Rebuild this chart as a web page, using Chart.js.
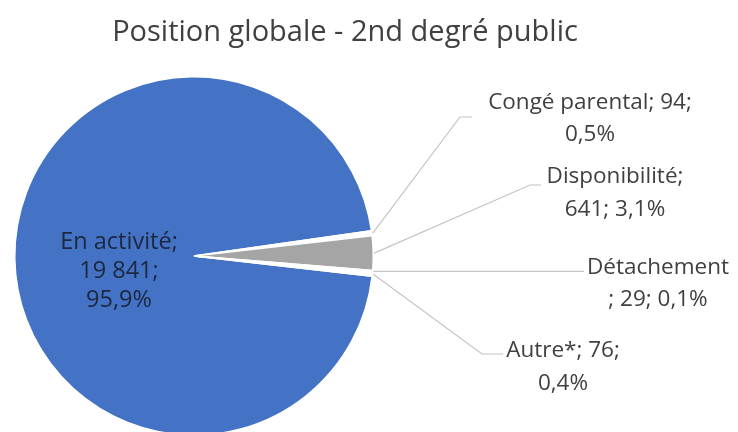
<!DOCTYPE html>
<html lang="fr">
<head>
<meta charset="utf-8">
<title>Position globale - 2nd degré public</title>
<script src="https://cdn.jsdelivr.net/npm/chart.js@4.4.1/dist/chart.umd.min.js"></script>
<style>
  html, body { margin: 0; padding: 0; background: #ffffff; overflow: hidden; }
  #wrap { width: 738px; height: 440px; }
</style>
</head>
<body>
<div id="wrap"><canvas id="pie" width="738" height="440"></canvas></div>
<script>
// effectifs par position
const categories = ['En activité', 'Congé parental', 'Disponibilité', 'Détachement', 'Autre*'];
const effectifs = [19841, 94, 641, 29, 76];
const sliceColors = ['#4472C4', '#FFFFFF', '#A5A5A5', '#FFFFFF', '#FFFFFF'];

const total = effectifs.reduce((a, b) => a + b, 0);
const fmtNum = (n) => String(n).replace(/\B(?=(\d{3})+(?!\d))/g, ' ');
const fmtPct = (n) => (n / total * 100).toFixed(1).replace('.', ',') + '%';

// placement des étiquettes : centre de la 1re ligne, coude du trait de rappel, retours à la ligne
const callouts = [
  { x: 119, y: 242, lh: 29, size: 23.5, breaks: [2, 4], color: '#1c2840' },
  { x: 590, y: 103, lh: 32, breaks: [4], elbow: [460, 117], end: [472, 117] },
  { x: 615, y: 177, lh: 33, breaks: [2], elbow: [530, 185], end: [541, 185] },
  { x: 658, y: 268, lh: 32, breaks: [1], elbow: null, end: [584, 0] },
  { x: 563, y: 351, lh: 33, breaks: [4], elbow: [482, 354], end: [503, 354] }
];

function labelLines(i, breaks) {
  const pieces = [categories[i], ';', ' ' + fmtNum(effectifs[i]), ';', ' ' + fmtPct(effectifs[i])];
  const cuts = [0, ...breaks, pieces.length];
  const out = [];
  for (let k = 0; k < cuts.length - 1; k++) {
    out.push(pieces.slice(cuts[k], cuts[k + 1]).join('').trim());
  }
  return out;
}

const labelsPlugin = {
  id: 'labelsPlugin',
  afterDraw(chart) {
    const ctx = chart.ctx;
    const arcs = chart.getDatasetMeta(0).data;
    ctx.save();

    // titre
    ctx.fillStyle = '#404040';
    ctx.font = '29px "Open Sans"';
    ctx.textAlign = 'center';
    ctx.textBaseline = 'alphabetic';
    ctx.fillText('Position globale - 2nd degré public', 345, 41);

    ctx.textBaseline = 'middle';
    callouts.forEach((c, i) => {
      const arc = arcs[i];
      if (i > 0) {
        const p = arc.getProps(['x', 'y', 'startAngle', 'endAngle', 'outerRadius'], true);
        const mid = (p.startAngle + p.endAngle) / 2;
        const sx = p.x + Math.cos(mid) * (p.outerRadius + 1);
        const sy = p.y + Math.sin(mid) * (p.outerRadius + 1);
        ctx.strokeStyle = '#c4c4c4';
        ctx.lineWidth = 1.2;
        ctx.beginPath();
        ctx.moveTo(sx, sy);
        if (c.elbow) {
          ctx.lineTo(c.elbow[0], c.elbow[1]);
          ctx.lineTo(c.end[0], c.end[1]);
        } else {
          ctx.lineTo(c.end[0], sy);
        }
        ctx.stroke();
      }
      ctx.font = (c.size || 22.5) + 'px "Open Sans"';
      ctx.fillStyle = c.color || '#404040';
      labelLines(i, c.breaks).forEach((line, k) => {
        ctx.fillText(line, c.x, c.y + k * c.lh);
      });
    });
    ctx.restore();
  }
};

new Chart(document.getElementById('pie'), {
  type: 'pie',
  data: {
    labels: categories,
    datasets: [{
      data: effectifs,
      backgroundColor: sliceColors,
      borderColor: '#FFFFFF',
      borderWidth: 1.5
    }]
  },
  options: {
    responsive: false,
    animation: false,
    devicePixelRatio: 1,
    rotation: 96.5,
    layout: { padding: { left: 14, right: 364, top: 76, bottom: 4 } },
    plugins: {
      legend: { display: false },
      title: { display: false },
      tooltip: { enabled: false }
    }
  },
  plugins: [labelsPlugin]
});
</script>
</body>
</html>
